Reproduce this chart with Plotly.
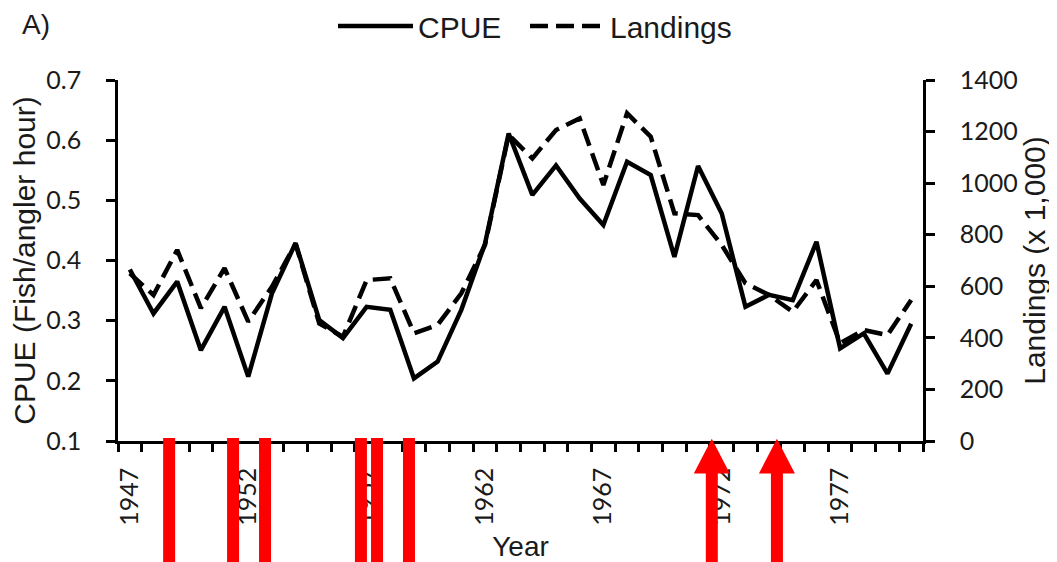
import plotly.graph_objects as go

# ---- data ----
years = [1947, 1948, 1949, 1950, 1951, 1952, 1953, 1954, 1955, 1956,
         1957, 1958, 1959, 1960, 1961, 1962, 1963, 1964, 1965, 1966,
         1967, 1968, 1969, 1970, 1971, 1972, 1973, 1974, 1975, 1976,
         1977, 1978, 1979, 1980]
cpue = [0.385, 0.312, 0.365, 0.251, 0.323, 0.207, 0.345, 0.429, 0.301, 0.271,
        0.323, 0.318, 0.204, 0.232, 0.318, 0.428, 0.611, 0.509, 0.558, 0.503,
        0.459, 0.564, 0.542, 0.406, 0.557, 0.478, 0.323, 0.343, 0.334, 0.431,
        0.254, 0.279, 0.212, 0.295]
landings = [650, 566, 741, 515, 670, 463, 598, 765, 456, 404,
            624, 631, 418, 450, 573, 760, 1187, 1096, 1206, 1251,
            993, 1271, 1180, 883, 876, 760, 612, 566, 501, 624,
            379, 430, 411, 547]
x_tick_years = [1947, 1952, 1957, 1962, 1967, 1972, 1977]
cpue_ticks = [0.1, 0.2, 0.3, 0.4, 0.5, 0.6, 0.7]
land_ticks = [0, 200, 400, 600, 800, 1000, 1200, 1400]
# red overlay marks (positions in year units)
bar_years = [1948.66, 1951.36, 1952.71, 1956.76, 1957.44, 1958.79]
arrow_years = [1971.58, 1974.33]

RED = "#ff0000"
TICKFONT = dict(family="Lato, 'Liberation Sans', Arial, sans-serif", size=25, color="#1a1a1a")
TITLEFONT = dict(family="'Liberation Sans', Arial, sans-serif", size=30, color="#1a1a1a")
LEGFONT = dict(family="'Liberation Sans', Arial, sans-serif", size=30, color="#1a1a1a")

fig = go.Figure()
fig.add_trace(go.Scatter(x=years, y=cpue, name="CPUE", mode="lines",
                         line=dict(color="black", width=4.5), yaxis="y",
                         legend="legend"))
fig.add_trace(go.Scatter(x=years, y=landings, name="Landings", mode="lines",
                         line=dict(color="black", width=4.5, dash="18px,8px"),
                         yaxis="y2", legend="legend2"))

half_years = [y - 0.5 for y in years] + [years[-1] + 0.5]

shapes = []
for by in bar_years:
    shapes.append(dict(type="rect", xref="x", yref="paper",
                       xsizemode="pixel", xanchor=by, x0=-6, x1=6,
                       y0=-0.34, y1=0.008, fillcolor=RED, line=dict(width=0),
                       layer="above"))
for ay in arrow_years:
    shapes.append(dict(type="path", xref="x", yref="paper",
                       xsizemode="pixel", xanchor=ay,
                       path="M 0 0.006 L 18 -0.09 L 6 -0.09 L 6 -0.34 "
                            "L -6 -0.34 L -6 -0.09 L -18 -0.09 Z",
                       fillcolor=RED, line=dict(width=0), layer="above"))

legend_common = dict(orientation="h", xanchor="left", y=(441 - 26) / 361,
                     yanchor="middle", font=LEGFONT, bgcolor="rgba(0,0,0,0)",
                     itemwidth=75)

# the page body adds an 8px offset, so the figure is 8px smaller
fig.update_layout(
    width=1049, height=554,
    margin=dict(l=110, r=134, t=72, b=121, autoexpand=False),
    paper_bgcolor="white", plot_bgcolor="white",
    showlegend=True,
    legend=dict(legend_common, x=(333 - 118) / 805),
    legend2=dict(legend_common, x=(525 - 118) / 805),
    xaxis=dict(range=[1946.5, 1980.5], tickmode="array", tickvals=x_tick_years,
               ticktext=[str(v) for v in x_tick_years], tickangle=-90,
               ticks="", ticklabelstandoff=14, tickfont=TICKFONT,
               minor=dict(tickmode="array", tickvals=half_years, ticks="outside",
                          ticklen=8, tickwidth=2.5, tickcolor="black"),
               showline=True, linecolor="black", linewidth=2.5,
               showgrid=False, zeroline=False, automargin=False,
               title=dict(text="Year", font=dict(TITLEFONT, size=28), standoff=12)),
    yaxis=dict(range=[0.1, 0.7], tickmode="array", tickvals=cpue_ticks,
               ticktext=[f"{v:.1f}" for v in cpue_ticks],
               ticks="outside", ticklen=9, tickwidth=2.5, tickcolor="black",
               ticklabelstandoff=20, tickfont=TICKFONT,
               showline=True, linecolor="black", linewidth=2.5,
               showgrid=False, zeroline=False, automargin=False,
               title=dict(text="CPUE (Fish/angler hour)", font=TITLEFONT, standoff=2)),
    yaxis2=dict(range=[0, 1400], tickmode="array", tickvals=land_ticks,
                ticktext=[str(v) for v in land_ticks], overlaying="y", side="right",
                ticks="outside", ticklen=9, tickwidth=2.5, tickcolor="black",
                ticklabelstandoff=20, tickfont=TICKFONT,
                showline=True, linecolor="black", linewidth=2.5,
                showgrid=False, zeroline=False, automargin=False,
                title=dict(text="Landings (x 1,000)", font=TITLEFONT, standoff=6)),
    shapes=shapes,
    annotations=[dict(text="A)", xref="paper", yref="paper", x=(20 - 118) / 805,
                      y=(441 - 25) / 361, xanchor="left", yanchor="middle",
                      showarrow=False, font=dict(TITLEFONT, size=28))],
)

fig.write_html("out.html")
